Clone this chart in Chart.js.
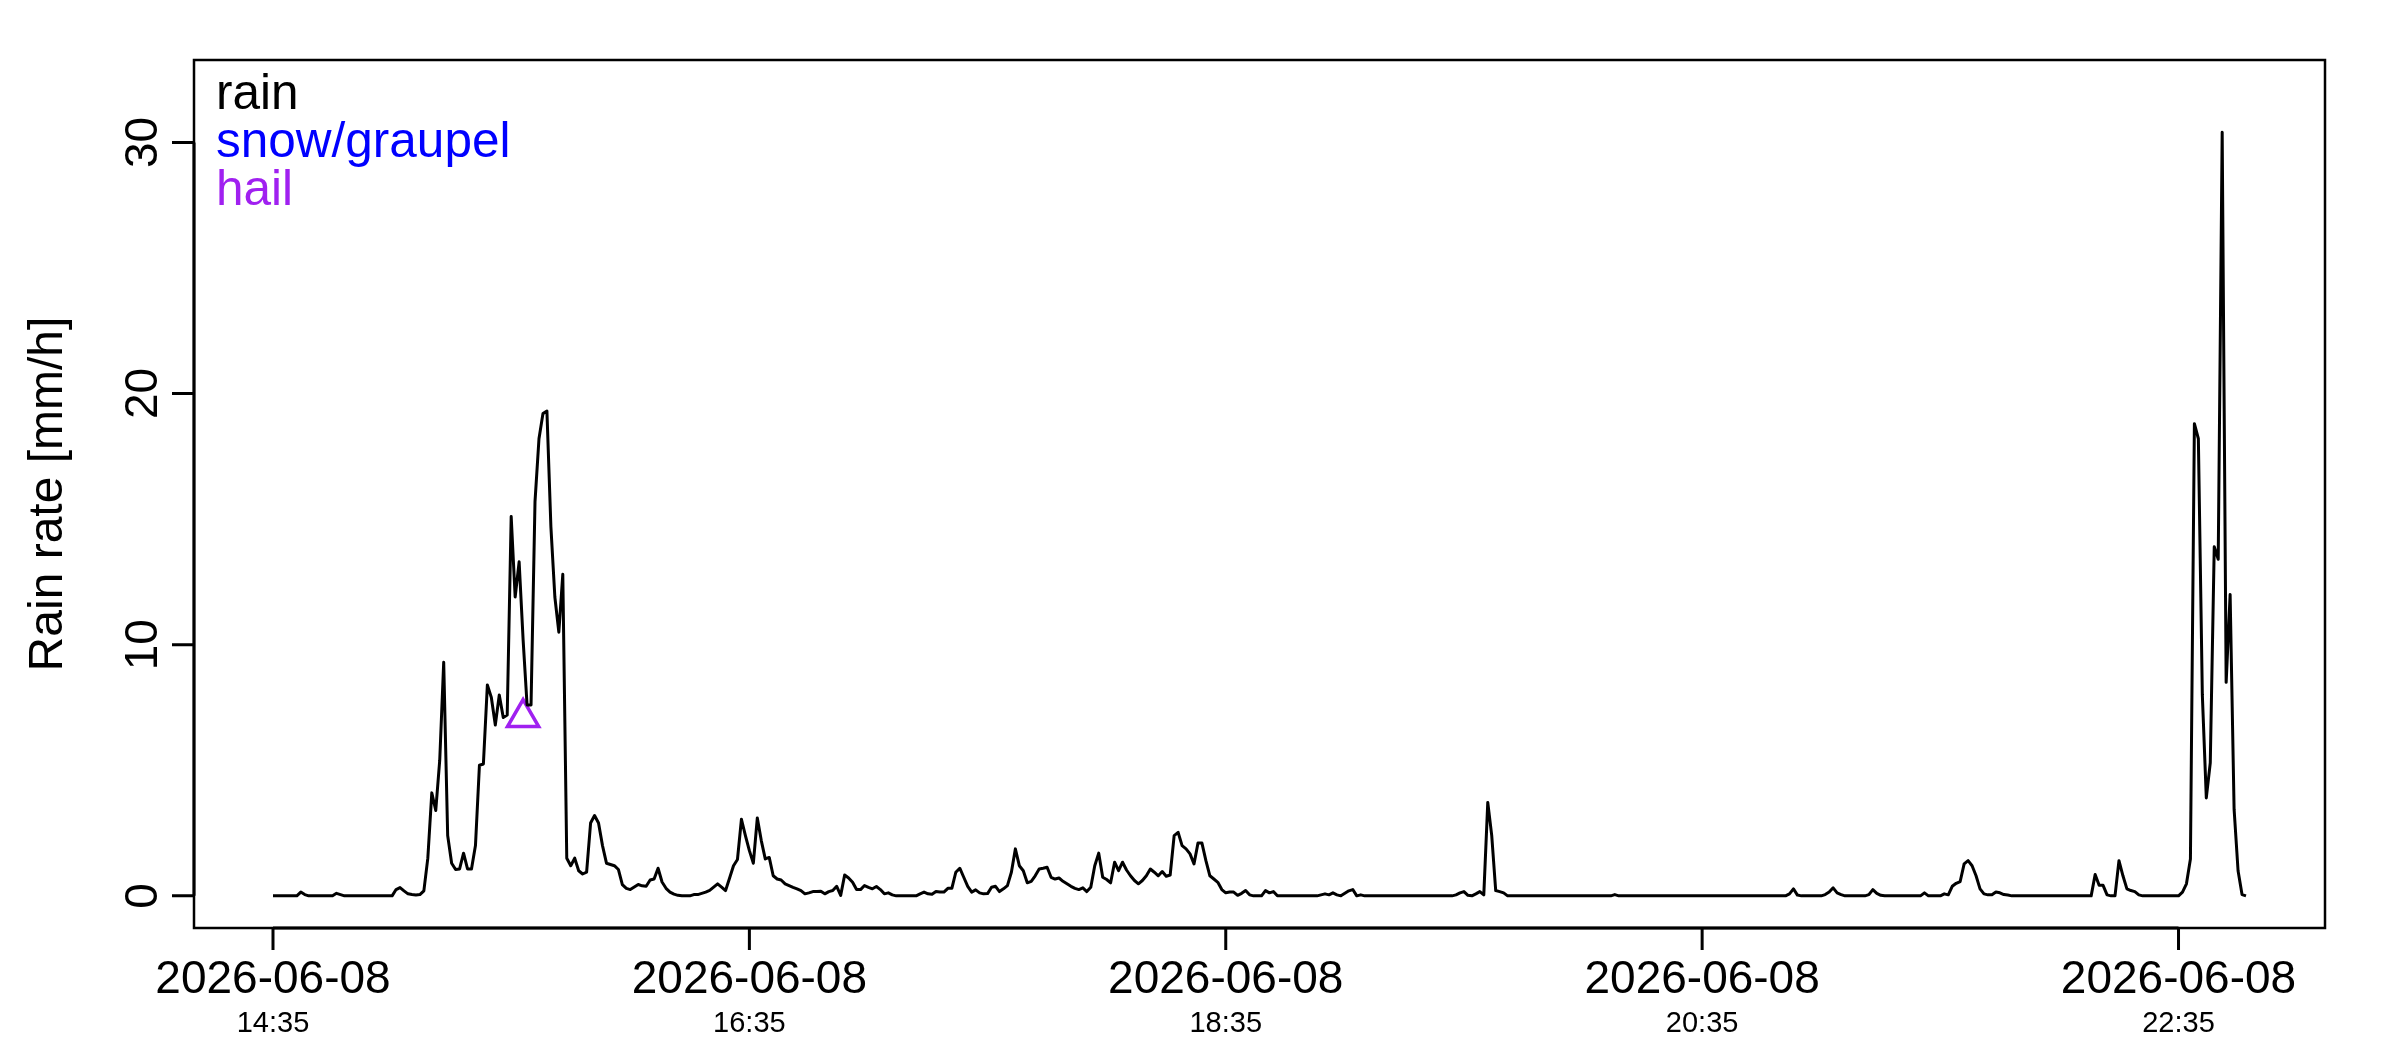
<!DOCTYPE html>
<html>
<head>
<meta charset="utf-8">
<script src="https://cdn.jsdelivr.net/npm/chart.js@4.4.1/dist/chart.umd.min.js"></script>
<style>
  html, body { margin: 0; padding: 0; background: #ffffff; }
  #wrap { width: 2400px; height: 1050px; position: relative; }
</style>
</head>
<body>
<div id="wrap"><canvas id="rainChart"></canvas></div>
<script>
// one value per minute, starting 2026-06-08 14:35
const dayLabel = "2026-06-08";
const xTickMinutes = [0, 120, 240, 360, 480];
const xTickTimes = ["14:35", "16:35", "18:35", "20:35", "22:35"];
const yTicks = [0, 10, 20, 30];
const yTitle = "Rain rate [mm/h]";

const rainRate = [
  0, 0, 0, 0, 0, 0, 0, 0.15, 0.05, 0,
  0, 0, 0, 0, 0, 0, 0.1, 0.05, 0, 0,
  0, 0, 0, 0, 0, 0, 0, 0, 0, 0,
  0, 0.25, 0.33, 0.2, 0.08, 0.05, 0.03, 0.05, 0.2, 1.5,
  4.1, 3.4, 5.4, 9.3, 2.4, 1.3, 1.05, 1.07, 1.7, 1.07,
  1.07, 2.0, 5.2, 5.25, 8.4, 7.9, 6.8, 8.0, 7.1, 7.2,
  15.1, 11.9, 13.3, 10.2, 7.6, 7.6, 15.7, 18.2, 19.2, 19.3,
  14.7, 11.9, 10.5, 12.8, 1.5, 1.2, 1.5, 1.0, 0.87, 0.94,
  2.9, 3.2, 2.9, 2.0, 1.3, 1.25, 1.2, 1.05, 0.45, 0.3,
  0.25, 0.35, 0.45, 0.4, 0.38, 0.63, 0.67, 1.1, 0.55, 0.3,
  0.15, 0.07, 0.02, 0, 0, 0, 0.05, 0.05, 0.1, 0.15,
  0.22, 0.35, 0.48, 0.35, 0.21, 0.7, 1.2, 1.45, 3.05, 2.4,
  1.8, 1.3, 3.1, 2.2, 1.47, 1.53, 0.8, 0.67, 0.63, 0.48,
  0.41, 0.34, 0.28, 0.21, 0.08, 0.12, 0.17, 0.17, 0.18, 0.08,
  0.17, 0.21, 0.38, 0.02, 0.83, 0.71, 0.54, 0.25, 0.25, 0.41,
  0.34, 0.28, 0.37, 0.25, 0.08, 0.12, 0.04, 0, 0, 0,
  0, 0, 0, 0.08, 0.15, 0.08, 0.06, 0.17, 0.15, 0.15,
  0.3, 0.3, 0.94, 1.1, 0.74, 0.38, 0.15, 0.24, 0.12, 0.08,
  0.09, 0.34, 0.38, 0.17, 0.28, 0.41, 0.94, 1.87, 1.2, 1.0,
  0.52, 0.58, 0.8, 1.07, 1.1, 1.14, 0.74, 0.67, 0.71, 0.58,
  0.48, 0.38, 0.3, 0.25, 0.32, 0.17, 0.34, 1.2, 1.7, 0.74,
  0.65, 0.52, 1.34, 1.0, 1.34, 1.03, 0.8, 0.61, 0.48, 0.61,
  0.8, 1.07, 0.94, 0.8, 0.97, 0.78, 0.83, 2.4, 2.53, 2.0,
  1.87, 1.67, 1.27, 2.1, 2.1, 1.4, 0.8, 0.67, 0.54, 0.25,
  0.12, 0.15, 0.15, 0.02, 0.1, 0.21, 0.04, 0, 0, 0,
  0.21, 0.12, 0.17, 0, 0, 0, 0, 0, 0, 0,
  0, 0, 0, 0, 0.04, 0.08, 0.04, 0.12, 0.04, 0,
  0.1, 0.2, 0.25, 0, 0.04, 0, 0, 0, 0, 0,
  0, 0, 0, 0, 0, 0, 0, 0, 0, 0,
  0, 0, 0, 0, 0, 0, 0, 0, 0.04, 0.12,
  0.17, 0.02, 0, 0.08, 0.17, 0.04, 3.72, 2.4, 0.21, 0.17,
  0.12, 0, 0, 0, 0, 0, 0, 0, 0, 0,
  0, 0, 0, 0, 0, 0, 0, 0, 0, 0,
  0, 0, 0, 0, 0, 0, 0, 0, 0.05, 0,
  0, 0, 0, 0, 0, 0, 0, 0, 0, 0,
  0, 0, 0, 0, 0, 0, 0, 0, 0, 0,
  0, 0, 0, 0, 0, 0, 0, 0, 0, 0,
  0, 0, 0, 0, 0, 0, 0, 0, 0, 0,
  0, 0, 0.08, 0.28, 0.03, 0, 0, 0, 0, 0,
  0, 0.05, 0.15, 0.32, 0.12, 0.05, 0, 0, 0, 0,
  0, 0, 0.05, 0.25, 0.1, 0.02, 0, 0, 0, 0,
  0, 0, 0, 0, 0, 0, 0.12, 0, 0, 0,
  0, 0.08, 0.04, 0.38, 0.5, 0.57, 1.27, 1.4, 1.2, 0.8,
  0.28, 0.08, 0.04, 0.04, 0.15, 0.12, 0.05, 0.03, 0, 0,
  0, 0, 0, 0, 0, 0, 0, 0, 0, 0,
  0, 0, 0, 0, 0, 0, 0, 0, 0, 0.85,
  0.42, 0.42, 0.04, 0, 0, 1.4, 0.8, 0.28, 0.21, 0.17,
  0.04, 0, 0, 0, 0, 0, 0, 0, 0, 0,
  0, 0.15, 0.48, 1.47, 18.8, 18.2, 8.0, 3.9, 5.3, 13.9,
  13.4, 30.4, 8.5, 12.0, 3.45, 1.0, 0.05, 0
];

// hail detections (minute offset, rate)
const hailMinutes = [63];
const hailRate = [7.1];

const legendLabels = ["rain", "snow/graupel", "hail"];
const legendColors = ["#000000", "#0000ff", "#a020f0"];

const FONT = "'Liberation Sans', Arial, Helvetica, sans-serif";

// R-like box, axes and text legend
const rFramePlugin = {
  id: "rFrame",
  afterDraw(chart) {
    const { ctx, chartArea: a, scales } = chart;
    const xs = scales.x;
    const ys = scales.y;
    ctx.save();
    ctx.strokeStyle = "#000000";
    ctx.fillStyle = "#000000";
    ctx.lineCap = "butt";

    ctx.lineWidth = 2.5;
    ctx.strokeRect(a.left, a.top, a.right - a.left, a.bottom - a.top);

    // bottom axis
    ctx.lineWidth = 3;
    const xFirst = xs.getPixelForValue(xTickMinutes[0]);
    const xLast = xs.getPixelForValue(xTickMinutes[xTickMinutes.length - 1]);
    ctx.beginPath();
    ctx.moveTo(xFirst, a.bottom);
    ctx.lineTo(xLast, a.bottom);
    xTickMinutes.forEach((m) => {
      const px = xs.getPixelForValue(m);
      ctx.moveTo(px, a.bottom);
      ctx.lineTo(px, a.bottom + 22);
    });
    ctx.stroke();

    ctx.textAlign = "center";
    ctx.textBaseline = "middle";
    xTickMinutes.forEach((m, i) => {
      const px = xs.getPixelForValue(m);
      ctx.font = `46px ${FONT}`;
      ctx.fillText(dayLabel, px, 980);
      ctx.font = `29px ${FONT}`;
      ctx.fillText(xTickTimes[i], px, 1024);
    });

    // left axis
    const yFirst = ys.getPixelForValue(yTicks[0]);
    const yLast = ys.getPixelForValue(yTicks[yTicks.length - 1]);
    ctx.beginPath();
    ctx.moveTo(a.left, yFirst);
    ctx.lineTo(a.left, yLast);
    yTicks.forEach((v) => {
      const py = ys.getPixelForValue(v);
      ctx.moveTo(a.left, py);
      ctx.lineTo(a.left - 22, py);
    });
    ctx.stroke();

    ctx.font = `46px ${FONT}`;
    yTicks.forEach((v) => {
      const py = ys.getPixelForValue(v);
      ctx.save();
      ctx.translate(144, py);
      ctx.rotate(-Math.PI / 2);
      ctx.fillText(String(v), 0, 0);
      ctx.restore();
    });

    ctx.font = `48px ${FONT}`;
    ctx.save();
    ctx.translate(49, (a.top + a.bottom) / 2);
    ctx.rotate(-Math.PI / 2);
    ctx.fillText(yTitle, 0, 0);
    ctx.restore();

    // legend (text only, coloured)
    ctx.font = `49.5px ${FONT}`;
    ctx.textAlign = "left";
    ctx.textBaseline = "alphabetic";
    legendLabels.forEach((lab, i) => {
      ctx.fillStyle = legendColors[i];
      ctx.fillText(lab, a.left + 22, a.top + 49 + i * 48);
    });
    ctx.restore();
  }
};

new Chart(document.getElementById("rainChart"), {
  type: "line",
  data: {
    datasets: [
      {
        label: "rain",
        data: rainRate.map((v, i) => ({ x: i, y: v })),
        borderColor: "#000000",
        borderWidth: 3,
        pointRadius: 0,
        tension: 0,
        borderJoinStyle: "round",
        fill: false
      },
      {
        label: "hail",
        type: "scatter",
        data: hailMinutes.map((m, i) => ({ x: m, y: hailRate[i] })),
        pointStyle: "triangle",
        pointRadius: 18,
        borderWidth: 3.5,
        borderColor: "#a020f0",
        backgroundColor: "rgba(0,0,0,0)",
        showLine: false
      }
    ]
  },
  options: {
    responsive: true,
    maintainAspectRatio: false,
    animation: false,
    layout: { padding: { left: 194, right: 75, top: 60, bottom: 122 } },
    plugins: {
      legend: { display: false },
      tooltip: { enabled: false }
    },
    scales: {
      x: { type: "linear", min: -19.9, max: 516.9, display: false },
      y: { type: "linear", min: -1.28, max: 33.28, display: false }
    }
  },
  plugins: [rFramePlugin]
});
</script>
</body>
</html>
